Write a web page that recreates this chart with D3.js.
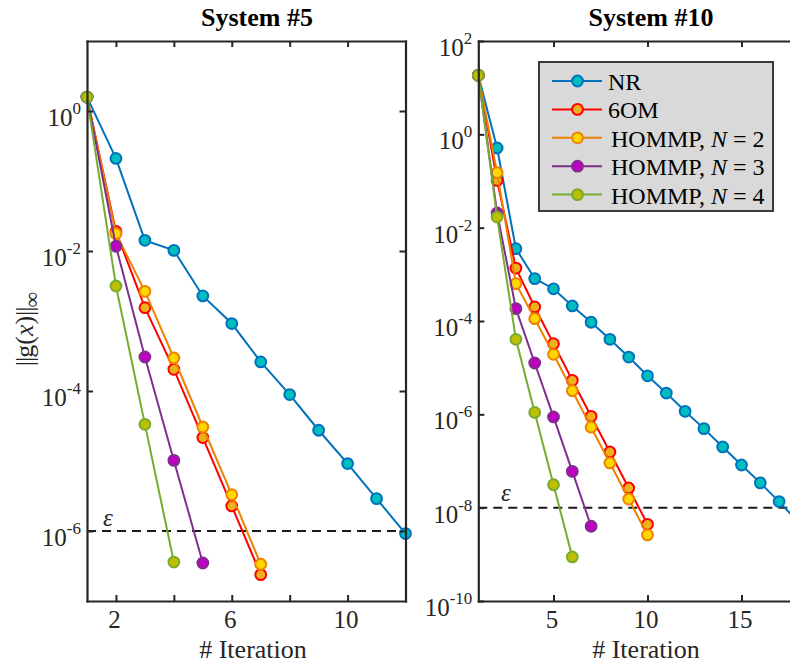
<!DOCTYPE html>
<html>
<head>
<meta charset="utf-8">
<script src="https://cdn.jsdelivr.net/npm/d3@7"></script>
<style>
  body { margin: 0; background: #fff; }
  svg, svg text, svg tspan { font-family: "Liberation Serif", "Times New Roman", Times, serif; }
</style>
</head>
<body>
<svg id="chart" width="790" height="669"></svg>
<script>
// Residual norm per iteration (iteration k = index + 1)
// System #5
const nr5   = [1.58, 0.21, 0.0142, 0.0102, 0.00228, 9.2e-4, 2.6e-4, 8.9e-5, 2.75e-5, 9.2e-6, 2.9e-6, 9.2e-7];
const om5   = [1.58, 0.019, 1.55e-3, 2.04e-4, 2.16e-5, 2.28e-6, 2.38e-7];
const hN2_5 = [1.58, 0.0177, 2.65e-3, 2.96e-4, 3.06e-5, 3.3e-6, 3.35e-7];
const hN3_5 = [1.58, 0.0117, 3.06e-4, 1.02e-5, 3.49e-7];
const hN4_5 = [1.58, 3.16e-3, 3.34e-5, 3.6e-7];
// System #10
const nr10   = [18.4, 0.51, 3.55e-3, 8.1e-4, 4.9e-4, 2.1e-4, 9.4e-5, 4.05e-5, 1.69e-5, 6.7e-6, 2.86e-6, 1.16e-6, 4.94e-7, 2e-7, 8.2e-8, 3.4e-8, 1.35e-8, 5e-9];
const om10   = [18.4, 0.103, 1.36e-3, 2e-4, 3.27e-5, 5.36e-6, 9.06e-7, 1.56e-7, 2.64e-8, 4.4e-9];
const hN2_10 = [18.4, 0.151, 6.3e-4, 1.12e-4, 1.93e-5, 3.2e-6, 5.3e-7, 9.1e-8, 1.53e-8, 2.6e-9];
const hN3_10 = [18.4, 0.0206, 1.84e-4, 1.26e-5, 8.8e-7, 6e-8, 4e-9];
const hN4_10 = [18.4, 0.0169, 4.05e-5, 1.1e-6, 3.1e-8, 8.8e-10];

// Tolerance lines
const eps5 = 1e-6, eps10 = 1e-8;

// Axis ticks and labels
const xTicks5  = [2, 4, 6, 8, 10];
const xLabels5 = ["2", "", "6", "", "10"];
const xTicks10  = [5, 10, 15];
const xLabels10 = ["5", "10", "15"];
const yExp5  = [0, -2, -4, -6];
const yExp10 = [2, 0, -2, -4, -6, -8, -10];

const seriesNames = ["NR", "6OM", "HOMMP2", "HOMMP3", "HOMMP4"];
const styles = {
  NR:     { line: "#0072BD", face: "#00BEBE" },
  "6OM":  { line: "#FF0000", face: "#EDB120" },
  HOMMP2: { line: "#EE8200", face: "#FFD700" },
  HOMMP3: { line: "#7E2F8E", face: "#C000C0" },
  HOMMP4: { line: "#77AC30", face: "#BFBF00" }
};

const FONT = '"Liberation Serif", "Times New Roman", Times, serif';
const AX = "#262626";

const svg = d3.select("#chart").attr("font-family", FONT);
svg.append("rect").attr("width", 790).attr("height", 669).attr("fill", "#fff");

function powLabels(axisG, exps) {
  axisG.selectAll(".tick text").each(function (d, i) {
    const t = d3.select(this);
    t.text(null);
    t.append("tspan").text("10");
    t.append("tspan").attr("font-size", 17).attr("dy", -12).text(String(exps[i]));
  });
}

function styleAxis(g) {
  g.attr("font-family", FONT).attr("font-size", 25).attr("color", AX);
  g.selectAll("path.domain").attr("stroke-width", 2.2).attr("stroke-linecap", "square");
  g.selectAll(".tick line").attr("stroke-width", 2);
}

function panel(cfg) {
  const { x, y, xt, xl, yexp, data, eps, epsLabel } = cfg;
  const [x0, x1] = x.range();
  const [y0, y1] = y.range();
  const yt = yexp.map(e => Math.pow(10, e));
  const g = svg.append("g");

  // tolerance line
  g.append("line")
    .attr("x1", x0).attr("x2", x1)
    .attr("y1", y(eps)).attr("y2", y(eps))
    .attr("stroke", "#1a1a1a").attr("stroke-width", 2)
    .attr("stroke-dasharray", "9,6");
  g.append("text")
    .attr("x", epsLabel[0]).attr("y", y(eps) + epsLabel[1])
    .attr("font-size", 25).attr("font-style", "italic").attr("fill", AX)
    .text("ε");

  // series: line then markers, in plotting order
  data.forEach((vals, si) => {
    const st = styles[seriesNames[si]];
    const pts = vals.map((v, i) => [i + 1, v]);
    g.append("path")
      .attr("d", d3.line().x(d => x(d[0])).y(d => y(d[1]))(pts))
      .attr("fill", "none").attr("stroke", st.line).attr("stroke-width", 2);
    g.selectAll(null).data(pts).enter().append("circle")
      .attr("cx", d => x(d[0])).attr("cy", d => y(d[1])).attr("r", 5.4)
      .attr("fill", st.face).attr("stroke", st.line).attr("stroke-width", 2);
  });

  // box axes (ticks pointing inward)
  const bottom = svg.append("g").attr("transform", `translate(0,${y0})`)
    .call(d3.axisBottom(x).tickValues(xt).tickFormat((d, i) => xl[i]).tickSizeInner(-6).tickSizeOuter(0));
  styleAxis(bottom);
  bottom.selectAll(".tick text").attr("y", 27).attr("dy", null).attr("dx", -2);

  const top = svg.append("g").attr("transform", `translate(0,${y1})`)
    .call(d3.axisTop(x).tickValues(xt).tickFormat("").tickSizeInner(-6).tickSizeOuter(0));
  styleAxis(top);

  const left = svg.append("g").attr("transform", `translate(${x0},0)`)
    .call(d3.axisLeft(y).tickValues(yt).tickFormat(() => "").tickSizeInner(-6).tickSizeOuter(0).tickPadding(6));
  styleAxis(left);
  left.selectAll(".tick text").attr("dy", 14.5);
  powLabels(left, yexp);

  const right = svg.append("g").attr("transform", `translate(${x1},0)`)
    .call(d3.axisRight(y).tickValues(yt).tickFormat("").tickSizeInner(-6).tickSizeOuter(0));
  styleAxis(right);

  // title and x label
  svg.append("text").attr("x", cfg.titleX).attr("y", 26)
    .attr("text-anchor", "middle").attr("font-size", 26).attr("font-weight", "bold").attr("fill", "#000")
    .text(cfg.title);
  svg.append("text").attr("x", cfg.labelX).attr("y", 658)
    .attr("text-anchor", "middle").attr("font-size", 26).attr("fill", AX)
    .text("# Iteration");
}

const xL = d3.scaleLinear().domain([1, 12]).range([87, 405.5]);
const yL = d3.scaleLog().domain([1e-7, 1e1]).range([601, 41]);
const xR = d3.scaleLinear().domain([1, 18]).range([478.3, 797.9]);
const yR = d3.scaleLog().domain([1e-10, 1e2]).range([601, 41]);

panel({ x: xL, y: yL, xt: xTicks5, xl: xLabels5, yexp: yExp5,
        data: [nr5, om5, hN2_5, hN3_5, hN4_5], eps: eps5, epsLabel: [103, -5],
        title: "System #5", titleX: 257, labelX: 253 });
panel({ x: xR, y: yR, xt: xTicks10, xl: xLabels10, yexp: yExp10,
        data: [nr10, om10, hN2_10, hN3_10, hN4_10], eps: eps10, epsLabel: [501, -7],
        title: "System #10", titleX: 651, labelX: 646 });

// y-axis label: infinity norm of g(x)
const yl = svg.append("text")
  .attr("transform", "translate(33,329) rotate(-90)")
  .attr("text-anchor", "middle").attr("font-size", 26).attr("fill", AX);
yl.append("tspan").attr("letter-spacing", "-1px").text("||");
yl.append("tspan").text("g(");
yl.append("tspan").attr("font-style", "italic").text("x");
yl.append("tspan").text(")");
yl.append("tspan").attr("letter-spacing", "-1px").text("||");
yl.append("tspan").attr("font-size", 22).attr("dy", 6).text("∞");

// legend
const legendLabels = [
  ["NR"], ["6OM"], ["HOMMP, ", "N", " = 2"], ["HOMMP, ", "N", " = 3"], ["HOMMP, ", "N", " = 4"]
];
const lg = svg.append("g");
lg.append("rect").attr("x", 539).attr("y", 62).attr("width", 234).attr("height", 149)
  .attr("fill", "#d9d9d9").attr("stroke", "#3a3a3a").attr("stroke-width", 2);
legendLabels.forEach((parts, i) => {
  const st = styles[seriesNames[i]];
  const cy = 81 + i * 28.4;
  lg.append("line").attr("x1", 552).attr("x2", 602).attr("y1", cy).attr("y2", cy)
    .attr("stroke", st.line).attr("stroke-width", 2);
  lg.append("circle").attr("cx", 577.5).attr("cy", cy).attr("r", 5.4)
    .attr("fill", st.face).attr("stroke", st.line).attr("stroke-width", 2);
  const t = lg.append("text").attr("x", i < 2 ? 608 : 611).attr("y", cy + 9)
    .attr("font-size", 24).attr("fill", "#000");
  parts.forEach((p, j) => {
    t.append("tspan").attr("font-style", j === 1 ? "italic" : null).text(p);
  });
});
</script>
</body>
</html>
